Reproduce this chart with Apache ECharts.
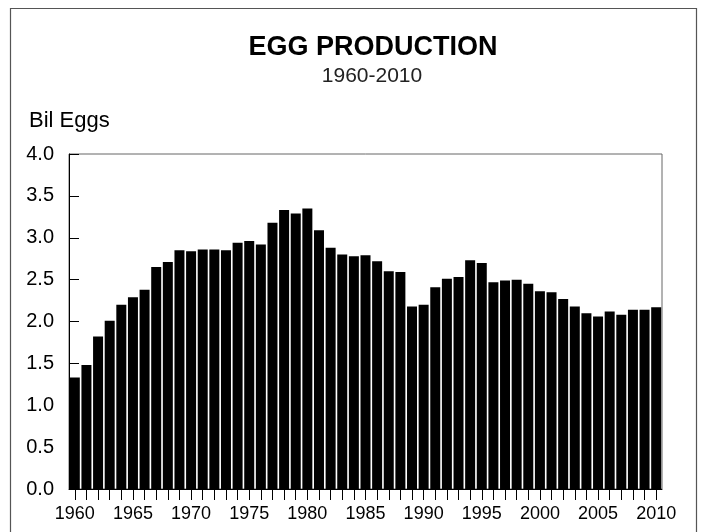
<!DOCTYPE html>
<html>
<head>
<meta charset="utf-8">
<script src="https://cdn.jsdelivr.net/npm/echarts@6/dist/echarts.min.js"></script>
<style>
  html, body { margin: 0; padding: 0; background: #fff; }
  #main { width: 703px; height: 532px; }
</style>
</head>
<body>
<div id="main"></div>
<script>
// years 1960-2010
var years = ['1960','1961','1962','1963','1964','1965','1966','1967','1968','1969',
  '1970','1971','1972','1973','1974','1975','1976','1977','1978','1979',
  '1980','1981','1982','1983','1984','1985','1986','1987','1988','1989',
  '1990','1991','1992','1993','1994','1995','1996','1997','1998','1999',
  '2000','2001','2002','2003','2004','2005','2006','2007','2008','2009','2010'];
// billion eggs
var eggs = [1.33, 1.48, 1.82, 2.01, 2.20, 2.29, 2.38, 2.65, 2.71, 2.85,
  2.84, 2.86, 2.86, 2.85, 2.94, 2.96, 2.92, 3.18, 3.33, 3.29,
  3.35, 3.09, 2.88, 2.80, 2.78, 2.79, 2.72, 2.60, 2.59, 2.18,
  2.20, 2.41, 2.51, 2.53, 2.73, 2.70, 2.47, 2.49, 2.50, 2.45,
  2.36, 2.35, 2.27, 2.18, 2.10, 2.06, 2.12, 2.08, 2.14, 2.14, 2.17];
var yTicks = ['0.0','0.5','1.0','1.5','2.0','2.5','3.0','3.5','4.0'];

var chart = echarts.init(document.getElementById('main'));
var font = 'Liberation Sans, Arial, sans-serif';

var option = {
  backgroundColor: '#fff',
  animation: false,
  title: [{
    text: 'EGG PRODUCTION',
    left: 368, top: 29, textAlign: 'center',
    textStyle: { fontFamily: font, fontWeight: 'bold', fontSize: 27, color: '#000' }
  }, {
    text: '1960-2010',
    left: 367, top: 61, textAlign: 'center',
    textStyle: { fontFamily: font, fontWeight: 'normal', fontSize: 21, color: '#222' }
  }, {
    text: 'Bil Eggs',
    left: 24, top: 105,
    textStyle: { fontFamily: font, fontWeight: 'normal', fontSize: 22, color: '#000' }
  }],
  graphic: [{
    type: 'rect',
    shape: { x: 10.5, y: 8.5, width: 686, height: 540 },
    style: { fill: 'none', stroke: '#555', lineWidth: 1.2 },
    silent: true
  }],
  grid: {
    left: 69, right: 41, top: 154, bottom: 43,
    show: true, borderColor: '#666', borderWidth: 1, backgroundColor: 'transparent'
  },
  xAxis: {
    type: 'category',
    data: years,
    axisLine: { lineStyle: { color: '#000', width: 1 } },
    axisTick: { show: true, alignWithLabel: true, interval: 0, length: 11, lineStyle: { color: '#000' } },
    axisLabel: {
      interval: 4, margin: 16, color: '#000', fontSize: 18, fontFamily: font
    }
  },
  yAxis: {
    type: 'value',
    min: 0, max: 4, interval: 0.5,
    splitLine: { show: false },
    axisLine: { show: true, lineStyle: { color: '#000', width: 1 } },
    axisTick: { show: true, inside: true, length: 10, lineStyle: { color: '#000' } },
    axisLabel: {
      margin: 15, color: '#000', fontSize: 20, fontFamily: font,
      formatter: function (v) { return yTicks[Math.round(v * 2)]; }
    }
  },
  series: [{
    type: 'bar',
    data: eggs,
    barCategoryGap: '14%',
    itemStyle: { color: '#000' }
  }]
};
chart.setOption(option);
</script>
</body>
</html>
